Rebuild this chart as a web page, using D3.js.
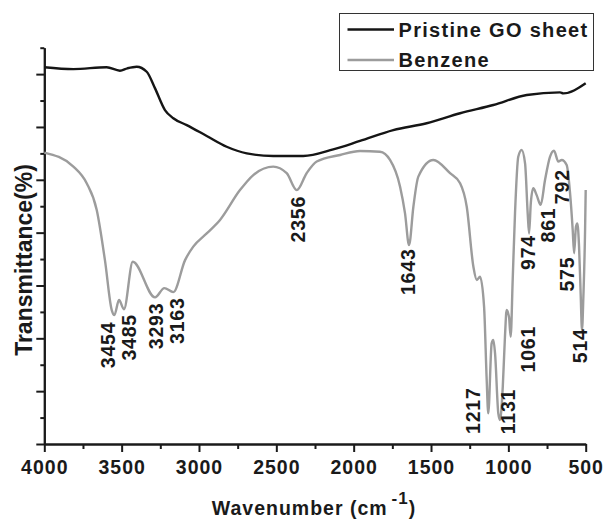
<!DOCTYPE html>
<html>
<head>
<meta charset="utf-8">
<script src="https://cdn.jsdelivr.net/npm/d3@7"></script>
<style>
  html, body { margin: 0; padding: 0; background: #fff; }
  svg { display: block; }
  text { font-family: "Liberation Sans", Arial, sans-serif; fill: #1a1a1a; }
</style>
</head>
<body>
<svg id="chart" width="604" height="521"></svg>
<script>
// ---------- data ----------
const seriesNames = ["Pristine GO sheet", "Benzene"];
const seriesColors = ["#151515", "#9c9c9c"];

// Pristine GO sheet: [wavenumber, transmittance (arb.)]
const pristineWave = [4000, 3812, 3597, 3511, 3463, 3403, 3338, 3284, 3220, 3166, 3079, 2950, 2821, 2691, 2520, 2326, 2132, 1959, 1744, 1528, 1312, 1097, 881, 666, 645, 500];
const pristineT    = [14.26, 14.19, 14.26, 14.13, 14.22, 14.28, 14.09, 13.46, 12.64, 12.33, 12.07, 11.66, 11.25, 11.00, 10.90, 10.90, 11.15, 11.47, 11.88, 12.14, 12.52, 12.83, 13.21, 13.31, 13.27, 13.65];

// Benzene
const benzeneWave = [4000, 3812, 3726, 3661, 3608, 3564, 3547, 3517, 3485, 3428, 3284, 3224, 3166, 3090, 3037, 2950, 2864, 2735, 2649, 2520, 2433, 2368, 2304, 2239, 2088, 1959, 1830, 1765, 1700, 1668, 1642, 1614, 1582, 1485, 1377, 1312, 1269, 1226, 1204, 1183, 1157, 1140, 1130, 1108, 1097, 1086, 1065, 1054, 1036, 1022, 1011, 996, 985, 972, 957, 936, 914, 892, 875, 866, 855, 839, 817, 791, 763, 731, 705, 677, 655, 623, 601, 584, 575, 563, 554, 543, 532, 524, 515, 504, 500];
const benzeneT    = [11.03, 10.50, 9.87, 8.86, 6.96, 5.07, 4.88, 5.45, 5.10, 6.90, 5.55, 5.90, 5.75, 6.96, 7.47, 7.97, 8.48, 9.61, 10.18, 10.50, 10.25, 9.61, 10.25, 10.69, 10.94, 11.09, 11.06, 10.75, 9.74, 8.73, 7.53, 8.98, 10.12, 10.75, 10.25, 9.87, 8.98, 6.71, 6.21, 6.33, 5.20, 2.42, 1.16, 3.81, 3.94, 3.43, 1.16, 0.91, 2.17, 4.06, 5.07, 4.82, 4.06, 6.21, 8.73, 10.87, 11.13, 10.62, 8.73, 7.97, 9.11, 9.68, 9.42, 9.05, 9.99, 10.87, 11.10, 10.69, 10.75, 10.56, 9.49, 8.10, 7.22, 8.22, 8.35, 7.47, 5.58, 4.31, 5.58, 8.10, 9.61];

// Peak annotations: text, anchor wavenumber, anchor transmittance (label centre)
const peakLabels = ["3454", "3485", "3293", "3163", "2356", "1643", "1217", "1131", "1061", "974", "861", "792", "575", "514"];
const peakLabelWave = [3586, 3450, 3280, 3144, 2358, 1647, 1226, 1000, 871, 871, 742, 655, 623, 537];
const peakLabelT    = [3.75, 4.04, 4.47, 4.67, 8.51, 6.52, 1.26, 1.23, 3.59, 7.25, 8.29, 9.74, 6.43, 3.72];

const xMajorTicks = [4000, 3500, 3000, 2500, 2000, 1500, 1000, 500];
const xMinorTicks = [3750, 3250, 2750, 2250, 1750, 1250, 750];
const yMajorTicks = [0, 2, 4, 6, 8, 10, 12, 14];
const yMinorTicks = [1, 3, 5, 7, 9, 11, 13, 15];

// ---------- chart ----------
const svg = d3.select("#chart");
const x = d3.scaleLinear().domain([4000, 500]).range([44.3, 585.7]);
const y = d3.scaleLinear().domain([0, 15]).range([444, 47.7]);

// axes
const axisStyle = g => {
  g.select(".domain").attr("stroke", "#1a1a1a").attr("stroke-width", 2);
  g.selectAll(".tick line").attr("stroke", "#1a1a1a").attr("stroke-width", 2);
};

svg.append("g").attr("transform", `translate(0,${y(0)})`)
  .call(d3.axisBottom(x).tickValues(xMinorTicks).tickSize(5).tickSizeOuter(0).tickFormat(""))
  .call(axisStyle);
const xg = svg.append("g").attr("transform", `translate(0,${y(0)})`)
  .call(d3.axisBottom(x).tickValues(xMajorTicks).tickSize(8).tickSizeOuter(0).tickPadding(8).tickFormat(d3.format("d")))
  .call(axisStyle);
xg.selectAll(".tick text")
  .attr("font-size", "19.5px").attr("font-weight", "bold")
  .attr("letter-spacing", "1px").attr("fill", "#1a1a1a")
  .attr("font-family", "Liberation Sans, Arial, sans-serif");

svg.append("g").attr("transform", `translate(${x(4000)},0)`)
  .call(d3.axisLeft(y).tickValues(yMinorTicks).tickSize(4).tickSizeOuter(0).tickFormat(""))
  .call(axisStyle);
svg.append("g").attr("transform", `translate(${x(4000)},0)`)
  .call(d3.axisLeft(y).tickValues(yMajorTicks).tickSize(8).tickSizeOuter(0).tickFormat(""))
  .call(axisStyle);

// lines
const line = d3.line().x(d => x(d[0])).y(d => y(d[1])).curve(d3.curveMonotoneX);
const pristine = pristineWave.map((w, i) => [w, pristineT[i]]);
const benzene = benzeneWave.map((w, i) => [w, benzeneT[i]]);

svg.append("path").datum(benzene).attr("d", line)
  .attr("fill", "none").attr("stroke", seriesColors[1]).attr("stroke-width", 2.4).attr("stroke-linejoin", "round");
svg.append("path").datum(pristine).attr("d", line)
  .attr("fill", "none").attr("stroke", seriesColors[0]).attr("stroke-width", 2.4).attr("stroke-linejoin", "round");

// peak labels
svg.append("g").selectAll("text").data(peakLabels).join("text")
  .attr("transform", (d, i) => `translate(${x(peakLabelWave[i])},${y(peakLabelT[i])}) rotate(-90)`)
  .attr("text-anchor", "middle").attr("dy", "0.36em")
  .attr("font-size", "19.5px").attr("font-weight", "bold").attr("letter-spacing", "0.8px")
  .text(d => d);

// axis titles
const xt = svg.append("text").attr("x", 314).attr("y", 515).attr("text-anchor", "middle")
  .attr("font-size", "19.5px").attr("font-weight", "bold").attr("letter-spacing", "1px");
xt.append("tspan").text("Wavenumber (cm");
xt.append("tspan").attr("dx", 4).attr("dy", -11).attr("font-size", "17px").text("-1");
xt.append("tspan").attr("dy", 11).text(")");

svg.append("text").attr("transform", "translate(31.5,260) rotate(-90)")
  .attr("text-anchor", "middle").attr("font-size", "23px").attr("font-weight", "bold")
  .text("Transmittance(%)");

// legend
const lg = svg.append("g");
lg.append("rect").attr("x", 339.5).attr("y", 13.5).attr("width", 254).attr("height", 57)
  .attr("fill", "#fff").attr("stroke", "#333").attr("stroke-width", 1);
seriesNames.forEach((name, i) => {
  const ly = 29.5 + i * 30.5;
  lg.append("line").attr("x1", 347.5).attr("x2", 394).attr("y1", ly).attr("y2", ly)
    .attr("stroke", seriesColors[i]).attr("stroke-width", 2.4);
  lg.append("text").attr("x", 398.5).attr("y", ly + 7)
    .attr("font-size", "20px").attr("font-weight", "bold").attr("letter-spacing", "1.3px")
    .text(name);
});
</script>
</body>
</html>
